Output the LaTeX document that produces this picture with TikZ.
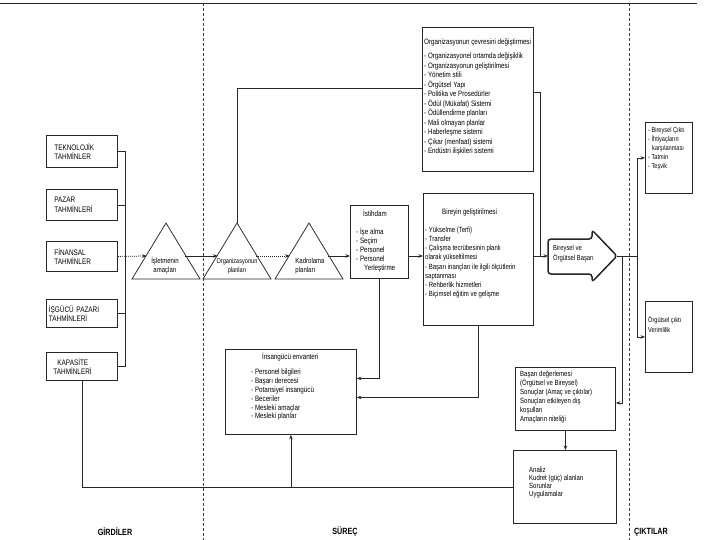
\documentclass[tikz,border=0pt]{standalone}
\usepackage{fontspec}
\setmainfont{Liberation Sans}
\newfontfamily\nar[FakeStretch=0.8]{Liberation Sans}
\usetikzlibrary{arrows.meta,calc}
\begin{document}
\begin{tikzpicture}[x=1pt,y=-1pt,
  ln/.style={draw=black!85, line width=0.75pt},
  box/.style={draw=black!85, line width=0.85pt, inner sep=0pt, anchor=north west},
  lbox/.style={box, align=left, inner xsep=8pt, text width=55pt, font=\nar\fontsize{8}{9.5}\selectfont},
  txt/.style={inner sep=0pt, anchor=north west, align=left, font=\nar\fontsize{7.8}{9.3}\selectfont},
  tritxt/.style={inner sep=0pt, align=center, font=\nar\fontsize{7.5}{9}\selectfont},
  arr/.style={ln,-{Stealth[length=4.5pt,width=3.5pt]}},
  dotl/.style={dash pattern=on 1pt off 1pt},
  sepl/.style={draw=black!75, line width=0.6pt, dash pattern=on 3pt off 2pt},
  lab/.style={font=\nar\fontsize{9}{10}\selectfont\bfseries, inner sep=0pt}
]
\useasboundingbox (0,0) rectangle (720,540);
\fill[white] (0,0) rectangle (720,540);

% frame lines
\draw[ln] (0,3) -- (697,3);
\draw[sepl] (203,3) -- (203,540);
\draw[sepl] (629,3) -- (629,540);

% input boxes
\node[lbox, minimum height=32pt] (tek) at (46,135) {TEKNOLOJİK\\TAHMİNLER};
\node[lbox, minimum height=31pt] (paz) at (46,189) {PAZAR\\TAHMİNLERİ};
\node[lbox, minimum height=30pt] (fin) at (46,241) {FİNANSAL\\TAHMİNLER};
\node[lbox, minimum height=28pt, inner xsep=2.5pt, text width=66pt] (isg) at (46,299) {İŞGÜCÜ PAZARI\\TAHMİNLERİ};
\node[lbox, minimum height=28pt, inner xsep=7pt, text width=57pt] (kap) at (46,352) {\hspace*{4pt}KAPASİTE\\TAHMİNLERİ};

% bus
\coordinate (bus) at (125,0);
\draw[ln] (tek.east) -| (bus |- kap.east) -- (kap.east);
\draw[ln] (paz.east) -- (bus |- paz.east);
\draw[ln] (isg.east) -- (bus |- isg.east);

% triangles
\coordinate (t1a) at (166,223); \coordinate (t1l) at (146.6,256); \coordinate (t1r) at (185.4,256);
\coordinate (t2a) at (237,223); \coordinate (t2l) at (217.6,256); \coordinate (t2r) at (256.4,256);
\coordinate (t3a) at (309,223); \coordinate (t3l) at (289.6,256); \coordinate (t3r) at (328.4,256);
\draw[ln] (t1a) -- ++(34,56) -- ++(-68,0) -- cycle;
\draw[ln] (t2a) -- ++(34,56) -- ++(-68,0) -- cycle;
\draw[ln] (t3a) -- ++(34,56) -- ++(-68,0) -- cycle;
\node[tritxt] (t1t) at (165,266) {İşletmenin\\amaçları};
\node[tritxt, font=\nar\fontsize{7}{9}\selectfont] (t2t) at (237,266) {Organizasyonun\\planları};
\node[tritxt, align=left] (t3t) at (310,266) {Kadrolama\\planları};

% process boxes
\node[box, minimum width=111pt, minimum height=144pt] (org) at (422,27) {};
\node[box, minimum width=58pt, minimum height=73pt] (ist) at (350,205) {};
\node[box, minimum width=110pt, minimum height=132pt] (bir) at (423,193) {};
\node[box, minimum width=131pt, minimum height=85pt] (ins) at (225,349) {};
\node[box, minimum width=100pt, minimum height=63pt] (bas) at (515,367) {};
\node[box, minimum width=103pt, minimum height=73pt] (ana) at (513,450) {};
\node[box, minimum width=47pt, minimum height=71pt] (out1) at (645,122) {};
\node[box, minimum width=47pt, minimum height=71pt] (out2) at (645,301) {};

% texts
\node[txt, font=\nar\fontsize{7.8}{9.5}\selectfont] (orgt) at (424,39) {Organizasyonun çevresini değiştirmesi\\[4.5pt]
- Organizasyonel ortamda değişiklik\\- Organizasyonun geliştirilmesi\\- Yönetim stili\\- Örgütsel Yapı\\- Politika ve Prosedürler\\- Ödül (Mükafat) Sistemi\\- Ödüllendirme planları\\- Mali olmayan planlar\\- Haberleşme sistemi\\- Çıkar (menfaat) sistemi\\- Endüstri ilişkileri sistemi};
\node[txt] (istt) at (363,210) {İstihdam};
\node[txt, font=\nar\fontsize{7.8}{8.8}\selectfont] (istl) at (356,228) {- İşe alma\\- Seçim\\- Personel\\- Personel\\\hspace*{8pt}Yerleştirme};
\node[txt] (birt) at (442,209) {Bireyin geliştirilmesi};
\node[txt, font=\nar\fontsize{7.5}{9.1}\selectfont] (birl) at (425,227) {- Yükselme (Terfi)\\- Transfer\\- Çalışma tecrübesinin planlı\\olarak yükseltilmesi\\- Başarı inançları ile ilgili ölçütlerin\\saptanması\\- Rehberlik hizmetleri\\- Biçimsel eğitim ve gelişme};
\node[txt] (inst) at (262,353) {İnsangücü envanteri};
\node[txt, font=\nar\fontsize{7.8}{8.8}\selectfont] (insl) at (251,369) {- Personel bilgileri\\- Başarı derecesi\\- Potansiyel insangücü\\- Beceriler\\- Mesleki amaçlar\\- Mesleki planlar};
\node[txt, font=\nar\fontsize{7.5}{9}\selectfont] (bast) at (520,371) {Başarı değerlemesi\\(Örgütsel ve Bireysel)\\Sonuçlar (Amaç ve çıktılar)\\Sonuçları etkileyen dış\\koşulları\\Amaçların niteliği};
\node[txt, font=\nar\fontsize{7.5}{8}\selectfont] (anat) at (529,467) {Analiz\\Kudret (güç) alanları\\Sorunlar\\Uygulamalar};
\node[txt, font=\nar\fontsize{7}{9}\selectfont] (out1t) at (648,127) {- Bireysel Çıktı\\- İhtiyaçların\\\hspace*{4pt}karşılanması\\- Tatmin\\- Teşvik};
\node[txt, font=\nar\fontsize{7}{10}\selectfont] (out2t) at (648,316) {Örgütsel çıktı\\Verimlilik};

% big arrow
\coordinate (ba) at (548,256);
\coordinate (tip) at (617,256);
\draw[draw=black!85, line width=1.5pt, rounded corners=3pt] (592,239) -- (548,239) -- (548,274) -- (592,274) -- (592,282) -- (tip) -- (592,230) -- cycle;
\node[txt, font=\nar\fontsize{7.3}{10}\selectfont] (bat) at (553,245) {Bireysel ve\\Örgütsel Başarı};

% main flow
\draw[arr, dotl] (fin.east) -- (t1l);
\draw[arr] (t1r) -- (t2l);
\draw[arr, dotl] (t2r) -- (t3l);
\draw[arr] (t3r) -- (ist.west |- t3r);
\draw[arr] (ist.east |- ba) -- (bir.west |- ba);
\draw[arr] (bir.east |- ba) -- (ba);

% organisation loop
\coordinate (j3) at (540,256);
\draw[ln] (t2a) |- ([yshift=11pt]org.west);
\draw[ln] ([yshift=7pt]org.east) -| (j3);

% outputs
\coordinate (jo) at (637,256);
\coordinate (jb) at (622,256);
\draw[ln] (tip) -- (jo);
\draw[arr] (jo) |- (out1.west);
\draw[arr] (jo) |- (out2.west);
\draw[arr] (jb) |- ([yshift=-4pt]bas.east);
\draw[arr] (bas.south) -- (bas.south |- ana.north);

% feedback
\draw[arr] (ist.south) |- ([yshift=13.5pt]ins.east);
\draw[arr] (bir.south) |- ([yshift=-5.5pt]ins.east);
\draw[ln] (ana.west) -| (kap.south);
\draw[arr] (ins.south |- ana.west) -- (ins.south);

% labels
\node[lab] (lg) at (115,532) {GİRDİLER};
\node[lab] (ls) at (345,532) {SÜREÇ};
\node[lab] (lc) at (651,532) {ÇIKTILAR};
\end{tikzpicture}
\end{document}
